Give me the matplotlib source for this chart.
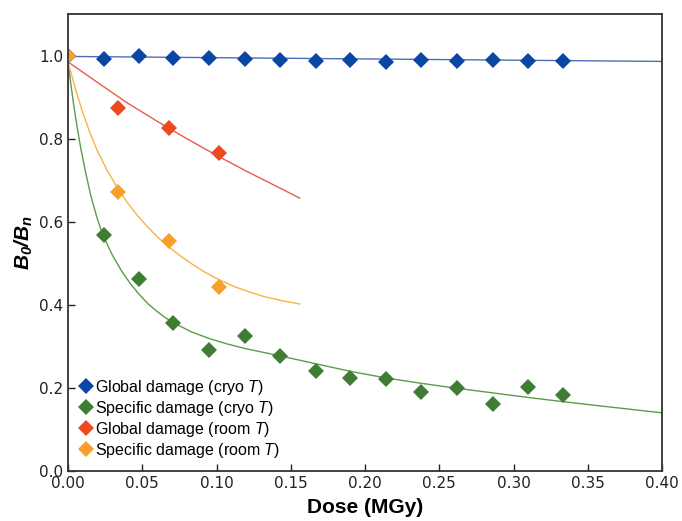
import numpy as np
import matplotlib
matplotlib.use("Agg")
import matplotlib.pyplot as plt

plt.rcParams['mathtext.fontset'] = 'custom'
plt.rcParams['mathtext.it'] = 'Liberation Sans:bold:italic'
plt.rcParams['mathtext.rm'] = 'Liberation Sans:bold:italic'
plt.rcParams['mathtext.sf'] = 'Liberation Sans:italic'

# measured points
cryo_dose = [0.0, 0.024, 0.048, 0.071, 0.095, 0.119, 0.143, 0.167,
             0.190, 0.214, 0.238, 0.262, 0.286, 0.310, 0.333]
global_cryo = [1.0, 0.992, 1.0, 0.994, 0.994, 0.991, 0.990, 0.988,
               0.990, 0.985, 0.990, 0.988, 0.990, 0.988, 0.988]
specific_cryo = [1.0, 0.569, 0.461, 0.356, 0.291, 0.324, 0.276, 0.241,
                 0.225, 0.221, 0.189, 0.199, 0.162, 0.203, 0.182]

room_dose = [0.0, 0.034, 0.068, 0.102]
global_room = [1.0, 0.873, 0.825, 0.766]
specific_room = [1.0, 0.672, 0.553, 0.442]

# fit curves
fit_global_cryo_x = [0.0, 0.2, 0.4]
fit_global_cryo_y = [0.998, 0.992, 0.986]

fit_specific_cryo_x = [0.0, 0.002, 0.004, 0.006, 0.0085, 0.012, 0.0153, 0.019,
                       0.022, 0.024, 0.030, 0.036, 0.042, 0.048, 0.054, 0.060,
                       0.066, 0.071, 0.083, 0.095, 0.107, 0.119, 0.143, 0.167,
                       0.190, 0.214, 0.238, 0.262, 0.286, 0.310, 0.333, 0.360,
                       0.400]
fit_specific_cryo_y = [0.985, 0.929, 0.877, 0.831, 0.779, 0.716, 0.664, 0.616,
                       0.583, 0.564, 0.519, 0.482, 0.451, 0.425, 0.402, 0.384,
                       0.368, 0.357, 0.335, 0.319, 0.306, 0.295, 0.277, 0.258,
                       0.240, 0.224, 0.211, 0.199, 0.188, 0.177, 0.167, 0.156,
                       0.140]

fit_global_room_x = [0.0, 0.02, 0.04, 0.06, 0.08, 0.10, 0.12, 0.14, 0.156]
fit_global_room_y = [0.985, 0.935, 0.886, 0.842, 0.800, 0.760, 0.722, 0.686, 0.657]

fit_specific_room_x = [0.0, 0.005, 0.010, 0.015, 0.020, 0.026, 0.033, 0.040,
                       0.047, 0.054, 0.061, 0.068, 0.076, 0.084, 0.092, 0.102,
                       0.112, 0.122, 0.132, 0.144, 0.156]
fit_specific_room_y = [0.985, 0.920, 0.862, 0.812, 0.769, 0.726, 0.683, 0.646,
                       0.614, 0.586, 0.561, 0.539, 0.517, 0.497, 0.479, 0.460,
                       0.444, 0.431, 0.420, 0.410, 0.402]

blue, green, red, orange = '#0a47a5', '#3f7d35', '#ee4a22', '#f9a02a'
blue_l, green_l, red_l, orange_l = '#4a6fb8', '#5c9c4c', '#ea5a48', '#f6b347'

fig = plt.figure(figsize=(6.82, 5.21), dpi=100)
ax = fig.add_axes([0.0997, 0.096, 0.871, 0.877])

ax.plot(fit_global_cryo_x, fit_global_cryo_y, color=blue_l, lw=1.0)
ax.plot(fit_specific_cryo_x, fit_specific_cryo_y, color=green_l, lw=1.0)
ax.plot(fit_global_room_x, fit_global_room_y, color=red_l, lw=1.0)
ax.plot(fit_specific_room_x, fit_specific_room_y, color=orange_l, lw=1.0)

ms = 8.5
ax.plot(cryo_dose, global_cryo, 'D', color=blue, ms=ms, mew=0,
        label=r'Global damage (cryo $\mathsf{T}$)')
ax.plot(cryo_dose, specific_cryo, 'D', color=green, ms=ms, mew=0,
        label=r'Specific damage (cryo $\mathsf{T}$)')
ax.plot(room_dose, global_room, 'D', color=red, ms=ms, mew=0,
        label=r'Global damage (room $\mathsf{T}$)')
ax.plot(room_dose, specific_room, 'D', color=orange, ms=ms, mew=0,
        label=r'Specific damage (room $\mathsf{T}$)')

ax.set_xlim(0, 0.40)
ax.set_ylim(0, 1.1)
ax.set_xticks(np.arange(0, 0.401, 0.05))
ax.set_yticks(np.arange(0, 1.01, 0.2))
ax.set_xticklabels([f'{v:.2f}' for v in np.arange(0, 0.401, 0.05)])
ax.set_yticklabels([f'{v:.1f}' for v in np.arange(0, 1.01, 0.2)])
ax.tick_params(direction='in', length=5, width=1, labelsize=11,
               top=False, right=False, colors='#222222', labelcolor='#222222')
for sp in ax.spines.values():
    sp.set_linewidth(1.3)
    sp.set_color('#333333')

ax.set_xlabel('Dose (MGy)', fontsize=15, fontweight='bold',
              family='Liberation Sans', labelpad=5)
ax.set_ylabel(r'$B_0/B_n$', fontsize=15, labelpad=3)

leg = ax.legend(loc='lower left', frameon=False, handlelength=0.8,
                handletextpad=0.2, labelspacing=0.12, borderaxespad=0.3,
                prop={'family': 'Liberation Sans', 'size': 11.5})

fig.savefig('out.png', dpi=100)
